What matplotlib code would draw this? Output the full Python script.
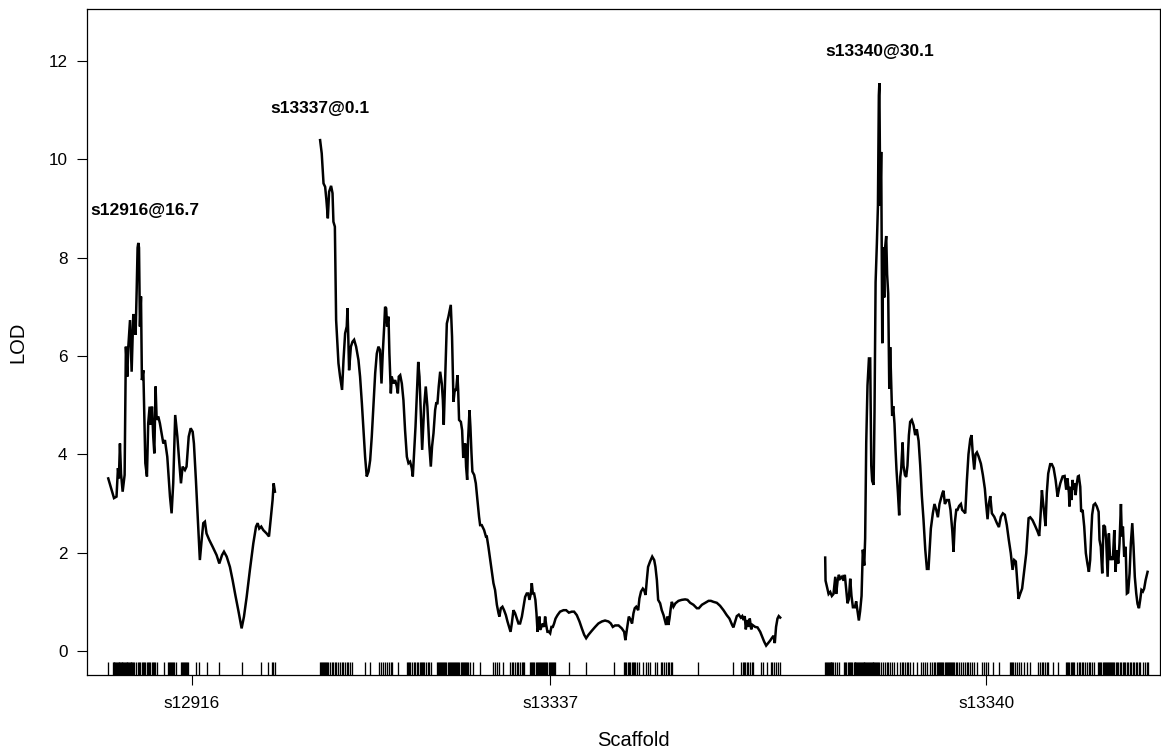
import matplotlib
matplotlib.use("Agg")
import matplotlib.pyplot as plt

plt.rcParams['font.family'] = ['Liberation Sans', 'DejaVu Sans']

# Scaffold names, in plotting order
scaffolds = ["s12916", "s13337", "s13340"]
gap = 25.0  # cM between scaffolds

# LOD profile along each scaffold (position in cM, LOD score)
s12916_pos = [0.0, 3.2, 4.6, 5.4, 5.9, 6.5, 7.1, 8.0, 9.1, 9.8,
              10.6, 11.1, 12.1, 13.0, 13.9, 14.6, 15.2, 15.8, 16.3, 16.7,
              17.1, 17.6, 18.2, 18.7, 19.5, 20.6, 21.5, 22.2, 23.0, 23.7,
              24.3, 25.0, 25.6, 26.3, 26.9, 27.8, 28.7, 30.6, 31.5, 32.8,
              34.3, 35.2, 36.1, 37.2, 38.4, 39.5, 40.4, 41.3, 42.6, 43.5,
              44.7, 45.8, 46.9, 47.6, 48.7, 49.8, 50.9, 51.9, 52.8, 53.7,
              54.6, 56.1, 58.0, 60.2, 61.7, 63.2, 64.3, 65.8, 67.6, 69.1,
              70.6, 72.4, 74.1, 75.4, 76.9, 78.7, 80.6, 82.1, 83.0, 83.9,
              85.0, 86.1, 88.0, 89.3, 90.2, 91.3, 91.9, 92.6]
s12916_lod = [3.51, 3.11, 3.14, 3.72, 3.51, 4.22, 3.61, 3.24, 3.58, 6.19,
              5.58, 6.16, 6.73, 5.68, 6.83, 6.83, 6.43, 7.34, 8.2, 8.3,
              8.2, 6.60, 7.21, 5.51, 5.71, 3.82, 3.55, 4.63, 4.97, 4.60,
              4.97, 4.36, 4.02, 5.38, 4.70, 4.77, 4.63, 4.22, 4.29, 3.95,
              3.14, 2.80, 3.41, 4.80, 4.36, 3.82, 3.41, 3.75, 3.68, 3.75,
              4.36, 4.53, 4.46, 4.22, 3.48, 2.66, 1.85, 2.26, 2.60, 2.63,
              2.39, 2.26, 2.12, 1.95, 1.78, 1.95, 2.02, 1.92, 1.71, 1.44,
              1.14, 0.80, 0.46, 0.70, 1.10, 1.65, 2.19, 2.53, 2.60, 2.49,
              2.53, 2.46, 2.39, 2.33, 2.66, 3.07, 3.41, 3.24]

s13337_pos = [0.1, 1.0, 2.0, 2.9, 3.6, 4.4, 5.1, 6.2, 7.0, 7.5,
              8.3, 9.0, 10.3, 11.2, 12.3, 13.1, 14.0, 14.9, 15.3, 15.7,
              16.2, 17.2, 18.1, 19.0, 20.1, 21.4, 22.3, 23.3, 24.2, 25.1,
              26.0, 27.0, 27.9, 28.8, 29.7, 30.7, 31.6, 32.5, 33.4, 34.2,
              34.9, 35.7, 36.2, 36.8, 37.3, 38.1, 38.6, 39.4, 39.9, 40.9,
              41.8, 42.7, 43.3, 43.8, 44.6, 45.5, 46.4, 47.3, 48.3, 49.2,
              50.1, 51.0, 51.6, 52.3, 53.1, 53.8, 54.6, 55.3, 56.0, 56.8,
              57.9, 58.8, 59.7, 60.7, 61.6, 62.3, 63.1, 64.0, 64.6, 65.3,
              66.0, 66.8, 67.7, 68.3, 68.8, 69.6, 70.5, 71.4, 72.7, 73.4,
              74.2, 74.9, 75.7, 76.4, 76.8, 77.3, 78.3, 79.0, 79.6, 80.1,
              80.7, 81.2, 81.8, 82.3, 83.1, 83.6, 84.2, 84.7, 85.7, 86.6,
              87.5, 88.4, 89.0, 89.9, 91.2, 92.2,
              92.7, 93.6, 94.6, 95.5, 96.4, 97.3, 98.3, 99.2, 99.7, 100.5,
              101.4, 102.3, 103.3, 104.2, 105.1, 105.9, 106.6, 107.5, 108.4, 109.4,
              110.3, 111.2, 112.2, 113.1, 114.0, 114.9, 115.7, 116.4, 117.2, 117.7,
              118.3, 119.0, 119.7, 120.3, 120.9, 121.4, 122.0, 122.3, 123.1, 123.8,
              124.6, 125.1, 125.7, 126.4, 127.2, 127.9, 128.6, 129.4, 130.1, 130.9,
              132.0, 133.4, 135.3, 136.8, 138.3, 139.9, 141.2, 142.7, 144.2, 145.5,
              146.8, 147.9, 149.2, 151.0, 152.9, 154.7, 156.6, 158.4, 160.3, 161.6,
              162.7, 164.0, 165.9, 167.7, 169.0, 169.7, 170.5, 171.6, 172.7, 173.4,
              174.2, 174.9, 175.7, 176.8, 177.5, 178.4, 179.4, 180.1, 180.9, 181.6,
              182.3, 183.4, 184.6, 185.7, 186.4, 187.2, 187.9, 189.0, 189.9, 190.9,
              191.6, 192.3, 193.1, 193.6, 194.2, 194.9, 195.5, 196.4, 197.5, 199.2,
              201.0, 202.9, 204.2, 205.7, 207.5, 209.4, 210.5, 212.2, 214.0, 215.9,
              217.2, 218.6, 220.5, 222.3, 224.2, 226.0, 227.5, 229.0, 229.7, 230.7,
              231.6, 232.7, 233.8, 234.6, 235.3, 236.0, 236.6, 237.3, 238.1, 238.8,
              239.6, 240.3, 241.8, 243.1, 244.6, 245.7, 246.8, 247.9, 249.0, 250.1,
              251.0, 252.0, 252.7, 253.4, 254.2, 254.9, 255.7]
s13337_lod = [10.39, 10.12, 9.51, 9.44, 9.17, 8.80, 9.34, 9.46, 9.31, 8.73,
              8.63, 6.73, 5.85, 5.58, 5.31, 5.92, 6.46, 6.60, 6.97, 6.46,
              5.71, 6.19, 6.29, 6.33, 6.19, 5.92, 5.58, 5.04, 4.49, 3.95,
              3.55, 3.65, 3.88, 4.36, 4.97, 5.65, 6.05, 6.19, 6.12, 5.44,
              6.05, 6.60, 7.00, 6.97, 6.60, 6.80, 6.05, 5.24, 5.58, 5.44,
              5.51, 5.38, 5.24, 5.58, 5.61, 5.44, 5.10, 4.49, 3.95, 3.82,
              3.85, 3.72, 3.55, 4.02, 4.56, 5.17, 5.88, 5.58, 4.90, 4.09,
              4.97, 5.38, 4.97, 4.22, 3.75, 4.16, 4.43, 4.90, 5.04, 5.04,
              5.38, 5.68, 5.44, 5.10, 4.60, 5.58, 6.66, 6.80, 7.04, 6.39,
              5.07, 5.31, 5.31, 5.61, 5.31, 4.70, 4.66, 4.49, 3.95, 3.95,
              4.22, 3.75, 3.48, 4.29, 4.90, 4.56, 4.02, 3.65, 3.58, 3.41,
              3.07, 2.73, 2.56, 2.56, 2.46, 2.33,
              2.33, 2.12, 1.85, 1.61, 1.38, 1.24, 0.94, 0.77, 0.70, 0.87,
              0.90, 0.83, 0.73, 0.60, 0.49, 0.39, 0.56, 0.83, 0.77, 0.66,
              0.56, 0.56, 0.70, 0.90, 1.10, 1.17, 1.17, 1.04, 1.17, 1.38,
              1.17, 1.17, 1.04, 0.77, 0.39, 0.49, 0.70, 0.43, 0.49, 0.56,
              0.49, 0.70, 0.53, 0.39, 0.39, 0.36, 0.49, 0.49, 0.56, 0.66,
              0.73, 0.80, 0.83, 0.83, 0.78, 0.80, 0.80, 0.73, 0.60, 0.46,
              0.33, 0.26, 0.33, 0.41, 0.49, 0.56, 0.60, 0.62, 0.60, 0.56,
              0.49, 0.52, 0.52, 0.46, 0.39, 0.22, 0.43, 0.70, 0.63, 0.56,
              0.77, 0.87, 0.90, 0.83, 1.07, 1.21, 1.27, 1.24, 1.14, 1.44,
              1.71, 1.82, 1.92, 1.85, 1.71, 1.44, 1.04, 0.97, 0.83, 0.73,
              0.63, 0.53, 0.70, 0.53, 0.66, 0.87, 1.00, 0.90, 0.97, 1.02,
              1.04, 1.05, 1.04, 0.98, 0.94, 0.87, 0.87, 0.94, 0.98, 1.02,
              1.02, 1.00, 0.98, 0.92, 0.83, 0.73, 0.66, 0.53, 0.48, 0.60,
              0.71, 0.74, 0.68, 0.71, 0.63, 0.71, 0.44, 0.63, 0.49, 0.66,
              0.44, 0.53, 0.49, 0.48, 0.39, 0.29, 0.19, 0.11, 0.16, 0.21,
              0.26, 0.31, 0.16, 0.49, 0.66, 0.71, 0.68]

s13340_pos = [0.0, 0.2, 0.9, 1.9, 2.8, 3.7, 4.6, 5.6, 6.1, 6.9,
              7.6, 8.3, 9.3, 10.2, 10.9, 11.7, 12.4, 13.1, 13.9, 14.6,
              15.4, 16.5, 17.2, 18.0, 18.7, 19.4, 20.2, 20.9, 21.7, 22.2,
              22.8, 23.5, 24.3, 25.0, 25.6, 26.1, 26.9, 27.4, 28.0, 28.7,
              29.3, 29.8, 30.1, 30.6, 31.1, 31.7, 32.2, 32.8, 33.3, 33.9,
              34.4, 35.0, 35.6, 36.1, 36.7, 37.2, 37.8, 38.5, 39.1, 39.6,
              40.4, 41.1, 41.7, 42.2, 43.0, 43.5, 44.3, 45.0, 45.7, 46.5,
              47.2, 48.1, 49.1, 50.0, 50.9, 51.9, 52.8, 53.7, 54.6, 55.6,
              56.5, 57.4, 58.0, 58.7, 59.8, 60.7, 61.7, 62.6, 63.5, 64.4,
              65.2, 65.7, 66.5, 67.6, 68.7, 69.6, 70.6, 71.3, 72.0, 72.8,
              73.5, 74.4, 75.4, 76.1, 76.9, 77.8, 78.7, 79.6, 80.6, 81.3,
              82.0, 82.8, 83.5, 84.3, 85.2, 86.5, 87.6, 88.7, 89.4, 90.2,
              90.9, 91.7,
              92.6, 93.9, 95.4, 96.5, 97.6, 98.7, 99.8, 100.9, 102.0, 103.1,
              104.1, 105.0, 105.9, 106.9, 107.4, 108.3, 109.4, 110.6, 111.7, 113.0,
              113.9, 115.2, 116.7, 118.0, 118.9, 119.6, 120.4, 120.9, 121.7, 122.4,
              123.1, 123.9, 125.0, 125.9, 126.9, 128.0, 129.1, 129.8, 130.6, 131.9,
              133.0, 133.9, 134.6, 135.4, 135.7, 136.3, 136.9, 137.4, 138.0, 138.5,
              139.1, 139.8, 140.4, 140.9, 141.7, 142.2, 143.0, 143.9, 144.8, 145.7,
              146.5, 147.2, 147.8, 148.3, 149.1, 150.0, 150.9, 151.9, 152.4, 153.1,
              153.9, 154.6, 155.4, 156.1, 156.9, 157.6, 158.3, 159.1, 159.8, 160.6,
              161.3, 162.0, 162.8, 163.5, 164.3, 164.8, 165.4, 166.1, 166.9, 167.6,
              168.3, 169.1, 169.8, 170.6, 171.3, 172.0, 172.8, 173.5, 174.3, 175.0,
              175.7, 176.5, 177.2, 178.0, 179.1]
s13340_lod = [1.90, 1.43, 1.32, 1.16, 1.20, 1.12, 1.16, 1.51, 1.16, 1.43,
              1.55, 1.47, 1.51, 1.43, 1.55, 1.24, 0.97, 1.05, 1.47, 1.12,
              0.89, 0.89, 1.01, 0.81, 0.62, 0.81, 1.12, 2.06, 1.74, 2.29,
              4.24, 5.40, 5.95, 5.95, 3.77, 3.46, 3.38, 4.86, 7.50, 8.28,
              9.06, 11.3, 11.55, 9.06, 10.15, 6.26, 8.21, 7.19, 8.21, 8.44,
              7.66, 7.27, 5.33, 6.18, 5.40, 4.78, 4.98, 4.62, 4.08, 3.69,
              3.22, 2.76, 3.54, 3.69, 4.24, 3.77, 3.58, 3.54, 3.77, 4.39,
              4.66, 4.70, 4.59, 4.39, 4.51, 4.27, 3.77, 3.15, 2.68, 2.06,
              1.67, 1.67, 2.06, 2.49, 2.80, 2.99, 2.87, 2.72, 2.99, 3.11,
              3.22, 3.26, 2.99, 3.07, 3.07, 2.87, 2.45, 2.02, 2.60, 2.87,
              2.87, 2.95, 2.99, 2.87, 2.84, 2.80, 3.46, 4.00, 4.31, 4.39,
              4.00, 3.69, 4.00, 4.04, 3.96, 3.81, 3.58, 3.30, 2.99, 2.68,
              2.99, 3.15,
              2.80, 2.73, 2.60, 2.52, 2.73, 2.80, 2.77, 2.56, 2.26, 1.99,
              1.65, 1.85, 1.82, 1.31, 1.06, 1.16, 1.27, 1.65, 1.99, 2.70,
              2.72, 2.66, 2.54, 2.43, 2.34, 2.73, 3.27, 3.07, 2.80, 2.54,
              3.21, 3.61, 3.80, 3.80, 3.72, 3.48, 3.14, 3.28, 3.41, 3.55,
              3.56, 3.28, 3.51, 3.21, 2.94, 3.34, 3.07, 3.48, 3.28, 3.41,
              3.17, 3.41, 3.55, 3.56, 3.34, 2.83, 2.87, 2.53, 1.99, 1.77,
              1.61, 1.85, 2.39, 2.77, 2.97, 3.00, 2.94, 2.83, 2.26, 2.12,
              1.58, 2.56, 2.53, 2.26, 1.51, 2.39, 1.85, 1.92, 1.85, 2.46,
              1.61, 2.05, 1.78, 2.19, 2.99, 2.33, 2.53, 1.92, 2.12, 1.17,
              1.19, 1.58, 2.19, 2.60, 2.12, 1.51, 1.17, 0.96, 0.87, 1.04,
              1.24, 1.21, 1.27, 1.44, 1.61]

# Marker positions (cM) on each scaffold, shown as a rug
s12916_markers = [0.0, 2.6, 3.0, 3.4, 3.9, 4.3, 4.8, 5.2, 5.7, 6.1, 6.6, 7.0, 7.5,
                  7.9, 8.4, 8.8, 9.3, 9.7, 10.2, 10.6, 11.1, 11.5, 12.0, 12.4,
                  12.9, 13.3, 13.8, 14.2, 15.2, 16.3, 17.2, 17.8, 18.6, 19.4,
                  20.0, 20.6, 21.3, 22.2, 22.8, 23.4, 24.1, 24.8, 25.4, 26.0,
                  26.9, 31.1, 33.0, 33.7, 34.4, 35.0, 35.6, 36.1, 36.7, 37.4,
                  40.4, 41.0, 41.6, 42.2, 42.6, 43.0, 43.6, 44.4, 48.7, 50.4,
                  54.8, 61.7, 74.1, 84.7, 88.9, 90.8, 91.7, 92.6]
s13337_markers = [0.1, 0.6, 1.1, 1.7, 2.3, 2.9, 3.5, 4.0, 4.6, 5.5, 6.6, 7.5, 8.4,
                  9.0, 10.2, 11.2, 12.1, 12.9, 13.9, 14.8, 15.7, 16.7, 17.7,
                  25.1, 27.9, 32.9, 34.0, 35.2, 36.2, 37.0, 38.4, 39.5, 40.0,
                  43.6, 48.3, 49.0, 49.6, 50.1, 51.1, 52.0, 52.9, 53.8, 54.7,
                  55.4, 56.1, 56.8, 57.3, 57.9, 58.8, 59.9, 60.8, 61.8, 64.9,
                  65.5, 66.1, 66.7, 67.3, 67.9, 68.5, 69.1, 69.7, 70.3, 70.9,
                  71.5, 72.1, 72.7, 73.3, 73.9, 74.5, 75.1, 75.7, 76.3, 76.9,
                  77.5, 78.1, 78.7, 79.3, 79.9, 80.5, 81.1, 81.7, 82.3, 83.4,
                  85.3, 89.0, 96.4, 97.5, 98.3, 99.7, 101.9, 105.7, 106.6,
                  107.5, 108.4, 109.3, 110.2, 111.2, 112.2, 113.0, 113.4,
                  116.8, 117.4, 118.0, 118.6, 119.2, 119.8, 120.4, 121.0,
                  121.6, 122.2, 122.8, 123.4, 124.0, 124.6, 125.2, 125.8,
                  126.4, 127.0, 127.6, 128.2, 128.8, 129.4, 130.0, 130.7,
                  138.6, 147.9, 163.1, 169.0, 169.6, 170.3, 171.0, 171.7,
                  172.4, 173.1, 173.8, 174.5, 175.2, 176.1, 177.3, 179.7,
                  181.0, 182.2, 183.4, 186.2, 187.5, 189.4, 190.3, 191.2,
                  192.2, 193.1, 194.0, 194.9, 195.7, 210.3, 229.7, 234.0,
                  234.8, 235.6, 236.4, 237.2, 238.0, 238.9, 239.9, 240.8,
                  244.9, 246.4, 248.2, 250.5, 251.3, 252.2, 253.2, 254.3, 255.7]
s13340_markers = [0.0, 0.5, 1.0, 1.5, 2.0, 2.5, 3.0, 3.5, 4.0, 4.6, 5.6, 6.5, 7.5,
                  10.2, 10.8, 11.5, 12.4, 13.0, 13.7, 14.3, 15.0, 15.8, 16.3,
                  16.8, 17.3, 17.8, 18.3, 18.8, 19.3, 19.8, 20.3, 20.8, 21.3,
                  21.8, 22.3, 22.8, 23.3, 23.8, 24.3, 24.8, 25.3, 25.8, 26.3,
                  26.8, 27.3, 27.8, 28.3, 28.8, 29.4, 30.1, 31.0, 32.0, 33.2,
                  34.6, 35.0, 36.0, 37.1, 38.2, 39.8, 41.7, 42.6, 43.5, 44.4,
                  45.3, 46.2, 47.2, 48.7, 50.9, 53.2, 54.3, 55.6, 56.7, 58.3,
                  59.3, 60.2, 61.1, 62.1, 62.7, 63.3, 63.9, 64.5, 65.1, 65.7,
                  66.3, 66.9, 67.5, 68.1, 68.7, 69.3, 69.9, 70.5, 71.1, 71.7,
                  72.4, 73.2, 74.6, 75.6, 76.6, 77.7, 78.7, 79.6, 80.5, 81.5,
                  82.8, 84.3, 87.2, 88.5, 89.1, 90.2, 93.2, 96.3, 102.4, 103.1,
                  103.9, 104.6, 105.6, 106.5, 107.4, 108.7, 110.2, 112.0,
                  113.9, 118.3, 119.3, 120.4, 121.1, 122.1, 123.2, 123.9,
                  126.5, 129.6, 133.9, 134.5, 135.1, 135.7, 136.3, 136.9,
                  137.5, 138.0, 139.8, 141.1, 141.7, 142.6, 143.5, 144.5,
                  145.4, 146.3, 147.2, 148.2, 149.1, 151.7, 152.3, 152.9,
                  153.5, 154.1, 154.7, 155.3, 155.9, 156.5, 157.1, 157.7,
                  158.3, 158.9, 159.5, 160.1, 160.7, 161.3, 162.1, 162.8,
                  163.6, 164.4, 165.2, 166.0, 166.8, 167.6, 168.4, 169.2,
                  170.0, 170.8, 171.6, 172.4, 173.3, 174.2, 175.0, 176.7,
                  177.8, 178.7, 179.1]

positions = [s12916_pos, s13337_pos, s13340_pos]
lods = [s12916_lod, s13337_lod, s13340_lod]
markers = [s12916_markers, s13337_markers, s13340_markers]

# Peak labels: position (cM) of the maximum on each scaffold
peak_pos = [16.7, 0.1, 30.1]
peak_lod = [8.3, 10.39, 11.55]
peak_dx = [5, 0, 0]  # horizontal nudge of the label, in points

fig = plt.figure(figsize=(11.61, 7.5), dpi=100)
ax = fig.add_axes([87 / 1161, 75 / 750, 1073 / 1161, 666 / 750])

# Lay scaffolds end to end with a fixed gap
offsets = []
start = 0.0
for m in markers:
    offsets.append(start)
    start += max(m) + gap

tick_pos = []
for i, name in enumerate(scaffolds):
    off = offsets[i]
    xs = [off + p for p in positions[i]]
    ax.plot(xs, lods[i], color="black", lw=1.8, solid_joinstyle="miter")
    ax.vlines([off + m for m in markers[i]], 0, 0.02,
              transform=ax.get_xaxis_transform(), color="black", lw=0.95)
    tick_pos.append(off + (min(markers[i]) + max(markers[i])) / 2)
    ax.annotate(f"{name}@{peak_pos[i]}", xy=(off + peak_pos[i], peak_lod[i] + 0.65),
                xytext=(peak_dx[i], 0), textcoords="offset points",
                ha="center", va="center", fontsize=12.5, fontweight="bold")

ax.set_xlim(-11.8, 584.3)
ax.set_ylim(-0.488, 13.057)
ax.set_xticks(tick_pos)
ax.set_xticklabels(scaffolds)
ax.set_yticks([0, 2, 4, 6, 8, 10, 12])
ax.tick_params(axis="both", direction="out", length=7, width=0.8, labelsize=12.3)
ax.tick_params(axis="y", pad=7)
ax.tick_params(axis="x", pad=8)
for sp in ax.spines.values():
    sp.set_linewidth(0.9)

ax.set_ylabel("LOD", fontsize=14.5)
ax.set_xlabel("Scaffold", fontsize=14.5)
ax.yaxis.set_label_coords(-0.064, 0.5)
ax.xaxis.set_label_coords(0.509, -0.0976)
ax.xaxis.label.set_va("center")
ax.yaxis.label.set_va("center")

fig.savefig("out.png", dpi=100)
